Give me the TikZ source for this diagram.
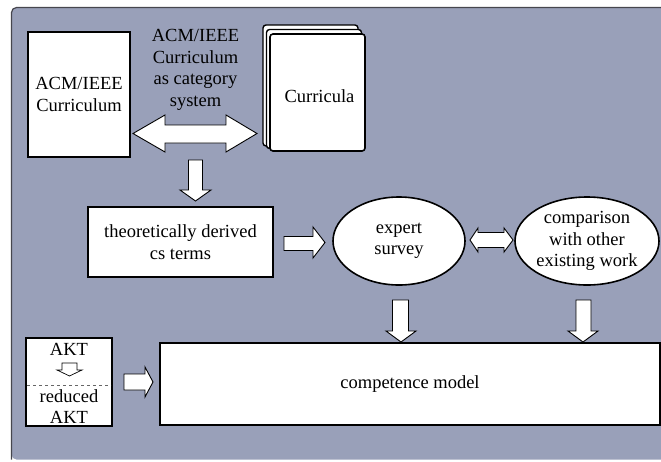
\documentclass[tikz,border=0pt]{standalone}
\usepackage{fontspec}
\setmainfont{Liberation Serif}
\usetikzlibrary{shapes.geometric}
\definecolor{panel}{RGB}{153,160,185}
\definecolor{panelline}{RGB}{70,70,78}
\begin{document}
\begin{tikzpicture}[x=1pt,y=-1pt,
  font=\fontsize{18.5}{21.5}\selectfont,
  box/.style={draw=black, line width=1.6pt, fill=white, inner sep=0pt, align=center},
  oval/.style={ellipse, draw=black, line width=1.6pt, fill=white, inner sep=0pt, align=center},
  page/.style={draw=black, line width=1.4pt, fill=white, rounded corners=3pt},
  blockarrow/.style={draw=black, line width=0.9pt, fill=white, line join=miter},
  smallarrow/.style={draw=black, line width=0.7pt, fill=white, line join=miter}]
\useasboundingbox (0,0) rectangle (661,461);
% panel
\fill[panel, rounded corners=5pt] (11.5,459.5) -- (11.5,7.5) -- (690,7.5) -- (690,459.5) -- cycle;
\draw[panelline, line width=1.2pt, rounded corners=5pt] (11.5,459.5) -- (11.5,7.5) -- (690,7.5);

% top row
\node[box, minimum width=102, minimum height=125] (acm) at (79,94.5) {ACM/IEEE\\Curriculum};
\node[align=center, inner sep=0pt] (cat) at (195.5,70) {ACM/IEEE\\Curriculum\\as category\\system};
\draw[page] (263,25) rectangle (358,146);
\draw[page] (266.5,29.5) rectangle (361.5,148.5);
\node[box, rounded corners=3pt, minimum width=95, minimum height=117] (cur) at (317.5,92.5) {};
\node (curt) at (319.5,96) {Curricula};

% middle row
\node[box, minimum width=185, minimum height=70] (theo) at (180.5,242) {theoretically derived\\cs terms};
\node[oval, minimum width=132, minimum height=88] (exp) at (399,241) {expert\\survey};
\node[oval, minimum width=144, minimum height=88] (cmp) at (587,241) {comparison\\with other\\existing work};

% bottom row
\node[box, minimum width=500, minimum height=82] (cm) at (410,384) {competence model};
\node[box, minimum width=86, minimum height=88] (akt) at (69,382) {};
\node[inner sep=0pt] (a1) at (69,349) {AKT};
\node[inner sep=0pt] (a2) at (69,396) {reduced};
\node[inner sep=0pt] (a3) at (69,417) {AKT};
\draw[dashed, draw=black!60, line width=1pt] (27,385) -- (111,385);
\draw[smallarrow] (62,363) -- (77,363) -- (77,370) -- (82,370) -- (69.5,376) -- (57,370) -- (62,370) -- cycle;

% block arrows
\draw[blockarrow] (133,133.5) -- (165,115) -- (165,125) -- (226,125) -- (226,115) -- (257,133.5) -- (226,152) -- (226,143) -- (165,143) -- (165,152) -- cycle;
\draw[blockarrow] (188.5,160) -- (202.5,160) -- (202.5,190) -- (211,190) -- (195.5,201) -- (180,190) -- (188.5,190) -- cycle;
\draw[blockarrow] (284,236.5) -- (313,236.5) -- (313,227) -- (325,242.5) -- (313,258) -- (313,250.5) -- (284,250.5) -- cycle;
\draw[blockarrow] (470,240) -- (478,228) -- (478,232.5) -- (504,232.5) -- (504,228) -- (513,240) -- (504,252) -- (504,247.5) -- (478,247.5) -- (478,252) -- cycle;
\draw[blockarrow] (392.5,300) -- (408.5,300) -- (408.5,331) -- (416,331) -- (401,342) -- (386,331) -- (392.5,331) -- cycle;
\draw[blockarrow] (576,300) -- (591,300) -- (591,331) -- (598,331) -- (583,342) -- (568,331) -- (576,331) -- cycle;
\draw[blockarrow] (124,374) -- (145,374) -- (145,367) -- (153,382) -- (145,397) -- (145,390) -- (124,390) -- cycle;
\end{tikzpicture}
\end{document}
